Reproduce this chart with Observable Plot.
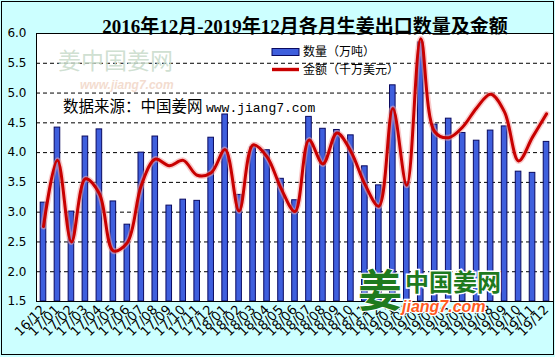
<!DOCTYPE html>
<html>
<head>
<meta charset="utf-8">
<script src="https://cdn.jsdelivr.net/npm/d3@7"></script>
<script src="https://cdn.jsdelivr.net/npm/@observablehq/plot@0.6"></script>
<style>
  html, body { margin: 0; padding: 0; background: #CCFFFF; }
  #chart { width: 555px; height: 357px; }
</style>
</head>
<body>
<div id="chart"></div>
<script>
const months = ["16/12","17/01","17/02","17/03","17/04","17/05","17/06","17/07","17/08","17/09","17/10","17/11",
  "17/12","18/01","18/02","18/03","18/04","18/05","18/06","18/07","18/08","18/09","18/10","18/11",
  "18/12","19/01","19/02","19/03","19/04","19/05","19/06","19/07","19/08","19/09","19/10","19/11","19/12"];
// 数量（万吨）
const quantity = [3.16,4.42,3.01,4.27,4.39,3.18,2.79,4.00,4.27,3.11,3.21,3.19,
  4.25,4.64,3.29,4.09,4.04,3.56,3.20,4.60,4.40,4.38,4.29,3.77,
  3.45,5.13,3.50,5.85,4.47,4.57,4.33,4.20,4.37,4.44,3.68,3.66,4.18];
// 金额（千万美元）
const amount = [2.76,3.87,2.50,3.56,3.31,2.35,2.49,3.45,3.89,3.78,3.87,3.62,
  3.66,4.05,3.02,4.13,3.93,3.40,3.01,4.21,3.81,4.33,4.02,3.47,
  3.10,4.74,3.45,5.91,4.35,4.25,4.43,4.75,4.98,4.68,3.86,4.26,4.65];
const yTicks = [1.5,2.0,2.5,3.0,3.5,4.0,4.5,5.0,5.5,6.0];
const gridLevels = [2.0,2.5,3.0,3.5,4.0,4.5,5.0,5.5];
const title = "2016年12月-2019年12月各月生姜出口数量及金额";
const seriesNames = ["数量（万吨）", "金额（千万美元）"];

const data = months.map((m, i) => ({month: m, qty: quantity[i], amt: amount[i]}));

const cjk = "'Noto Sans CJK SC', 'Noto Sans', sans-serif";

const svg = Plot.plot({
  width: 555,
  height: 357,
  marginLeft: 36,
  marginRight: 2,
  marginTop: 33,
  marginBottom: 56,
  style: {background: "#CCFFFF", fontFamily: "'DejaVu Sans', sans-serif", fontSize: "12px", color: "black", overflow: "visible"},
  x: {type: "band", domain: months, paddingInner: 0.6, paddingOuter: 0.3, label: null, tickSize: 0, tickRotate: -45, tickPadding: 6},
  y: {domain: [1.5, 6], ticks: yTicks, tickFormat: d => d.toFixed(1), label: null, tickSize: 0, tickPadding: 10},
  marks: [
    Plot.frame({fill: "white", stroke: "none"}),
    Plot.ruleY(gridLevels, {stroke: "black", strokeDasharray: "4,3", strokeWidth: 1}),
    Plot.barY(data, {x: "month", y1: 1.5, y2: "qty", fill: "#3F5FDD", stroke: "#0A0A60", strokeWidth: 1}),
    Plot.line(data, {x: "month", y: "amt", curve: "catmull-rom", stroke: "#F4A0A0", strokeWidth: 6, strokeOpacity: 0.55}),
    Plot.line(data, {x: "month", y: "amt", curve: "catmull-rom", stroke: "#C80000", strokeWidth: 3}),
    Plot.frame({stroke: "black", strokeWidth: 1}),
    Plot.text([title], {frameAnchor: "top", dx: 10, dy: -14, fontSize: 19, fontWeight: "bold",
      fontFamily: "'Liberation Serif', 'Noto Sans CJK SC', serif", fill: "black"})
  ]
});

const s = d3.select(svg);
s.selectAll('g[aria-label="x-axis tick label"] text, g[aria-label="x-axis"] text').attr("font-size", 13);

const t = (sel) => sel.append("text").attr("text-anchor", "start");

// watermark top-left
t(s).attr("x", 58).attr("y", 69).attr("font-family", cjk).attr("font-size", 23)
  .attr("fill", "#CADCCC").attr("fill-opacity", 0.9).text("姜中国姜网");
t(s).attr("x", 80).attr("y", 89).attr("font-family", "'Liberation Sans', sans-serif").attr("font-size", 12)
  .attr("font-weight", "bold").attr("font-style", "italic").attr("fill", "#F3DCCF").text("www.jiang7.com");

// data source note
const note = t(s).attr("x", 63).attr("y", 112).attr("fill", "black");
note.append("tspan").attr("font-family", cjk).attr("font-size", 15.5).text("数据来源：中国姜网 ");
note.append("tspan").attr("font-family", "'Liberation Mono', monospace").attr("font-size", 13).text("www.jiang7.com");

// legend
const lg = s.append("g");
lg.append("rect").attr("x", 272).attr("y", 48.5).attr("width", 27).attr("height", 7)
  .attr("fill", "#3F5FDD").attr("stroke", "#0A0A60");
t(lg).attr("x", 303).attr("y", 52).attr("dy", "0.35em").attr("font-family", cjk).attr("font-size", 12).text(seriesNames[0]);
lg.append("line").attr("x1", 272).attr("x2", 299).attr("y1", 69.5).attr("y2", 69.5).attr("stroke", "#F4A0A0").attr("stroke-width", 5).attr("stroke-opacity", 0.55);
lg.append("line").attr("x1", 272).attr("x2", 299).attr("y1", 69.5).attr("y2", 69.5).attr("stroke", "#C80000").attr("stroke-width", 3);
t(lg).attr("x", 303).attr("y", 70).attr("dy", "0.35em").attr("font-family", cjk).attr("font-size", 12).text(seriesNames[1]);

// logo bottom-right
const logo = s.append("g");
t(logo).attr("x", 358).attr("y", 307).attr("font-family", cjk).attr("font-size", 44).attr("font-weight", "bold")
  .attr("fill", "#1E7A1E").attr("stroke", "white").attr("stroke-width", 2).attr("paint-order", "stroke").text("姜");
t(logo).attr("x", 405).attr("y", 291).attr("font-family", cjk).attr("font-size", 24).attr("font-weight", "bold")
  .attr("fill", "#1E7A1E").attr("stroke", "white").attr("stroke-width", 3).attr("paint-order", "stroke").text("中国姜网");
t(logo).attr("x", 402).attr("y", 312).attr("font-family", "'Liberation Sans', sans-serif").attr("font-size", 16)
  .attr("font-weight", "bold").attr("font-style", "italic")
  .attr("fill", "#FF5A1F").attr("stroke", "white").attr("stroke-width", 2.5).attr("paint-order", "stroke").text("jiang7.com");

// outer border
s.append("rect").attr("x", 1.5).attr("y", 1.5).attr("width", 552).attr("height", 353)
  .attr("fill", "none").attr("stroke", "black").attr("stroke-width", 1);

document.getElementById("chart").appendChild(svg);
</script>
</body>
</html>
